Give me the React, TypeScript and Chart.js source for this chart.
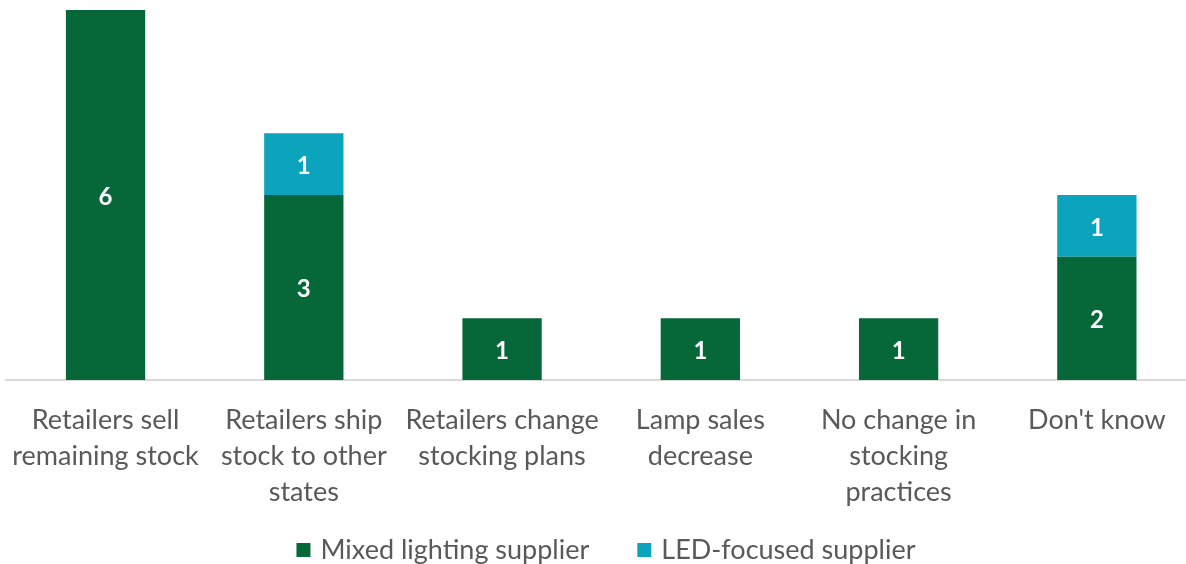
import React, { useEffect, useRef } from "react";
import { Chart, registerables } from "chart.js";

Chart.register(...registerables);

const categories: string[][] = [
  ["Retailers sell", "remaining stock"],
  ["Retailers ship", "stock to other", "states"],
  ["Retailers change", "stocking plans"],
  ["Lamp sales", "decrease"],
  ["No change in", "stocking", "practices"],
  ["Don't know"],
];
const mixedValues: (number | null)[] = [6, 3, 1, 1, 1, 2];
const ledValues: (number | null)[] = [null, 1, null, null, null, 1];
const seriesNames = ["Mixed lighting supplier", "LED-focused supplier"];
const GREEN = "#066838";
const TEAL = "#0ca4bd";
const FONT = "Lato, 'Open Sans', sans-serif";
const TEXT = "#595959";
const SHIFT = 2;

const valueLabels = {
  id: "valueLabels",
  afterDatasetsDraw(chart: any) {
    const ctx = chart.ctx;
    ctx.save();
    ctx.fillStyle = "#ffffff";
    ctx.font = `bold 24px ${FONT}`;
    ctx.textAlign = "center";
    ctx.textBaseline = "middle";
    chart.data.datasets.forEach((ds: any, di: number) => {
      const meta = chart.getDatasetMeta(di);
      meta.data.forEach((el: any, i: number) => {
        const v = ds.data[i];
        if (v == null) return;
        const mid = (el.y + el.base) / 2;
        ctx.fillText(String(v), el.x, mid + 2);
      });
    });
    ctx.restore();
  },
};

const customLegend = {
  id: "customLegend",
  afterDraw(chart: any) {
    const ctx = chart.ctx;
    ctx.save();
    ctx.font = `27px ${FONT}`;
    ctx.textBaseline = "middle";
    ctx.textAlign = "left";
    const box = 14;
    const gap = 10;
    const between = 48;
    const items = chart.data.datasets.map((ds: any) => ({
      text: ds.label,
      color: ds.backgroundColor,
      w: ctx.measureText(ds.label).width,
    }));
    let total = 0;
    items.forEach((it: any, i: number) => {
      total += box + gap + it.w + (i > 0 ? between : 0);
    });
    const cx = 606 + SHIFT;
    const y = 550;
    let x = cx - total / 2;
    items.forEach((it: any) => {
      ctx.fillStyle = it.color;
      ctx.fillRect(x, y - box / 2, box, box);
      x += box + gap;
      ctx.fillStyle = TEXT;
      ctx.fillText(it.text, x, y);
      x += it.w + between;
    });
    ctx.restore();
  },
};

export default function App() {
  const ref = useRef<HTMLCanvasElement | null>(null);
  useEffect(() => {
    if (!ref.current) return;
    const chart = new Chart(ref.current, {
      type: "bar",
      data: {
        labels: categories,
        datasets: [
          { label: seriesNames[0], data: mixedValues, backgroundColor: GREEN, barPercentage: 0.4, categoryPercentage: 1 },
          { label: seriesNames[1], data: ledValues, backgroundColor: TEAL, barPercentage: 0.4, categoryPercentage: 1 },
        ],
      },
      options: {
        animation: false,
        responsive: false,
        maintainAspectRatio: false,
        layout: { padding: { left: 4, right: 4, top: 10, bottom: 40 } },
        plugins: {
          legend: { display: false },
          tooltip: { enabled: false },
        },
        scales: {
          x: {
            stacked: true,
            grid: { display: false },
            border: { display: true, color: "#d9d9d9", width: 2 },
            ticks: {
              color: TEXT,
              font: { family: FONT, size: 27, lineHeight: 36 / 27 },
              padding: 14,
              maxRotation: 0,
              autoSkip: false,
            },
          },
          y: {
            stacked: true,
            display: false,
            min: 0,
            max: 6,
          },
        },
      },
      plugins: [valueLabels, customLegend],
    });
    return () => chart.destroy();
  }, []);
  return (
    <div style={{ position: "absolute", left: 0, top: 0, width: 1186, height: 564, overflow: "hidden", background: "#fff" }}>
      <canvas ref={ref} width={1202} height={564} style={{ display: "block", marginLeft: -SHIFT }} />
    </div>
  );
}
